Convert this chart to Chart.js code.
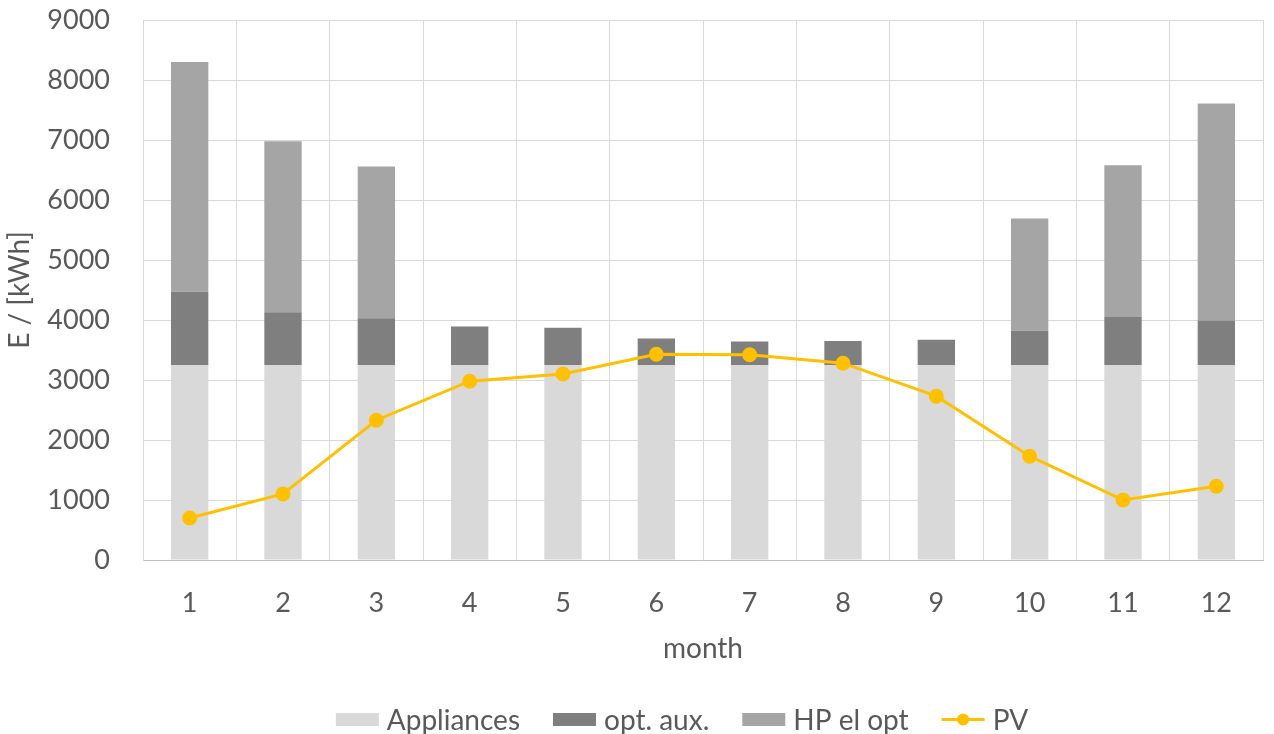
<!DOCTYPE html>
<html>
<head>
<meta charset="utf-8">
<script src="https://cdn.jsdelivr.net/npm/chart.js@4/dist/chart.umd.min.js"></script>
<style>
  html, body { margin: 0; padding: 0; background: #ffffff; }
  #wrap { width: 1274px; height: 734px; }
</style>
</head>
<body>
<div id="wrap"><canvas id="c" width="1274" height="734"></canvas></div>
<script>
// Monthly electricity demand (stacked) and PV yield, kWh
const months = ['1', '2', '3', '4', '5', '6', '7', '8', '9', '10', '11', '12'];
const appliances = [3250, 3250, 3250, 3250, 3250, 3250, 3250, 3250, 3250, 3250, 3250, 3250];
const optAux = [1220, 880, 780, 640, 620, 440, 390, 400, 420, 570, 800, 740];
const hpElOpt = [3830, 2850, 2530, 0, 0, 0, 0, 0, 0, 1870, 2530, 3620];
const pv = [700, 1100, 2330, 2980, 3100, 3430, 3420, 3280, 2730, 1730, 1000, 1230];
const yTicks = [0, 1000, 2000, 3000, 4000, 5000, 6000, 7000, 8000, 9000];

const FONT = 'Lato, "Open Sans", sans-serif';
const TEXT = '#595959';
const PV_COLOR = '#ffc000';
const TICK_SIZE = 27;
const LABEL_SIZE = 28;

// Legend drawn by hand: wide swatches for the bars, a line with a dot for PV
const bottomLegend = {
  id: 'bottomLegend',
  afterDraw(chart) {
    const ctx = chart.ctx;
    const sw = 43, sh = 13, gapText = 8, gapItem = 33;
    const cy = 719.5;
    const centerX = 682;
    ctx.save();
    ctx.font = `${LABEL_SIZE}px ${FONT}`;
    ctx.textBaseline = 'middle';
    ctx.textAlign = 'left';
    const items = chart.data.datasets.map(ds => ({
      text: ds.label,
      isLine: ds.type === 'line',
      color: ds.type === 'line' ? ds.borderColor : ds.backgroundColor,
      w: ctx.measureText(ds.label).width
    }));
    const total = items.reduce((s, it) => s + sw + gapText + it.w, 0) + gapItem * (items.length - 1);
    let x = centerX - total / 2;
    items.forEach(it => {
      if (it.isLine) {
        ctx.strokeStyle = it.color;
        ctx.lineWidth = 3;
        ctx.beginPath();
        ctx.moveTo(x, cy);
        ctx.lineTo(x + sw, cy);
        ctx.stroke();
        ctx.fillStyle = it.color;
        ctx.beginPath();
        ctx.arc(x + sw / 2, cy, 6, 0, Math.PI * 2);
        ctx.fill();
      } else {
        ctx.fillStyle = it.color;
        ctx.fillRect(x, cy - sh / 2, sw, sh);
      }
      ctx.fillStyle = TEXT;
      ctx.fillText(it.text, x + sw + gapText, cy + 1);
      x += sw + gapText + it.w + gapItem;
    });
    ctx.restore();
  }
};

new Chart(document.getElementById('c'), {
  type: 'bar',
  data: {
    labels: months,
    datasets: [
      { label: 'Appliances', data: appliances, backgroundColor: '#d9d9d9', stack: 'demand', order: 2 },
      { label: 'opt. aux.', data: optAux, backgroundColor: '#7f7f7f', stack: 'demand', order: 2 },
      { label: 'HP el opt', data: hpElOpt, backgroundColor: '#a5a5a5', stack: 'demand', order: 2 },
      {
        type: 'line', label: 'PV', data: pv, stack: 'pv', order: 0,
        borderColor: PV_COLOR, backgroundColor: PV_COLOR, borderWidth: 3,
        pointRadius: 6, pointHoverRadius: 6, pointBackgroundColor: PV_COLOR,
        pointBorderColor: PV_COLOR, fill: false, tension: 0
      }
    ]
  },
  options: {
    responsive: false,
    animation: false,
    layout: { padding: { left: 0, right: 11, top: 20, bottom: 64 } },
    datasets: { bar: { categoryPercentage: 1.0, barPercentage: 0.40 } },
    scales: {
      x: {
        stacked: true,
        grid: { color: '#d9d9d9', lineWidth: 1, offset: true, drawTicks: false },
        border: { color: '#bfbfbf' },
        ticks: { color: TEXT, font: { family: FONT, size: TICK_SIZE }, padding: 27 },
        title: { display: true, text: 'month', color: TEXT, font: { family: FONT, size: LABEL_SIZE }, padding: { top: 0, bottom: 4 } },
        afterFit(scale) { scale.height = 110; scale.paddingLeft = 0; scale.paddingRight = 0; }
      },
      y: {
        stacked: true,
        min: 0, max: 9000,
        afterBuildTicks(scale) { scale.ticks = yTicks.map(v => ({ value: v })); },
        grid: { color: '#d9d9d9', lineWidth: 1, drawTicks: false },
        border: { color: '#d9d9d9' },
        ticks: {
          color: TEXT, font: { family: FONT, size: TICK_SIZE }, padding: 33,
          callback: v => String(v)
        },
        title: { display: true, text: 'E / [kWh]', color: TEXT, font: { family: FONT, size: LABEL_SIZE }, padding: { top: 3, bottom: 0 } },
        afterFit(scale) { scale.width = 143; scale.paddingTop = 0; scale.paddingBottom = 0; }
      }
    },
    plugins: {
      tooltip: { enabled: false },
      legend: { display: false }
    }
  },
  plugins: [bottomLegend]
});
</script>
</body>
</html>
